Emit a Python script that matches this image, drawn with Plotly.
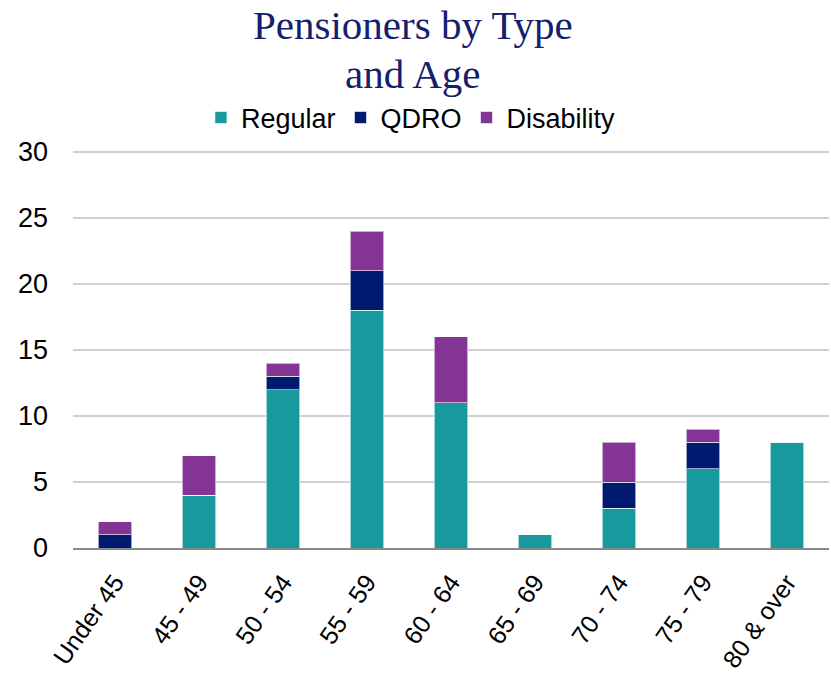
import plotly.graph_objects as go

categories = ["Under 45", "45 - 49", "50 - 54", "55 - 59", "60 - 64", "65 - 69", "70 - 74", "75 - 79", "80 & over"]
regular = [0, 4, 12, 18, 11, 1, 3, 6, 8]
qdro = [1, 0, 1, 3, 0, 0, 2, 2, 0]
disability = [1, 3, 1, 3, 5, 0, 3, 1, 0]
title_lines = ["Pensioners by Type", "and Age"]

series = [("Regular", regular, "#17999D"), ("QDRO", qdro, "#001A70"), ("Disability", disability, "#843494")]

fig = go.Figure()
for name, vals, color in series:
    fig.add_trace(go.Bar(x=categories, y=vals, name=name, marker=dict(color=color, line=dict(color="rgba(255,255,255,0.6)", width=1))))

top = 149
plot_h = 677 - top - 129
title_y = [25, 74]
fig.update_layout(
    barmode="stack",
    bargap=0.6,
    width=831, height=677,
    paper_bgcolor="white", plot_bgcolor="white",
    margin=dict(l=73, r=2, t=top, b=129),
    annotations=[dict(text=t, x=0.45, xref="paper", xanchor="center",
                      y=1 + (top - ty) / plot_h, yref="paper", yanchor="middle", showarrow=False,
                      font=dict(family="Liberation Serif, serif", size=41, color="#14206E"))
                 for t, ty in zip(title_lines, title_y)],
    legend=dict(orientation="h", x=0.447, xanchor="center", y=1 + (top - 118) / plot_h, yanchor="middle",
                font=dict(family="Liberation Sans, Arial, sans-serif", size=27, color="#000"),
                itemwidth=30, traceorder="normal"),
    font=dict(family="Liberation Sans, Arial, sans-serif", size=27, color="#000"),
)
fig.update_yaxes(range=[0, 30.23], tickvals=[0, 5, 10, 15, 20, 25, 30], showgrid=True, gridcolor="#D0D0D0", gridwidth=1.5,
                 zeroline=False, showline=False, ticks="", ticklabelstandoff=24, automargin=False,
                 tickfont=dict(size=27))
fig.update_xaxes(showline=True, linecolor="#888", linewidth=1.5, tickangle=-55, ticks="", automargin=False,
                 ticklabelstandoff=8, tickfont=dict(size=25))
fig.write_html("out.html", config={"displayModeBar": False},
               post_script="document.body.style.margin='0';document.body.style.overflow='hidden';")
